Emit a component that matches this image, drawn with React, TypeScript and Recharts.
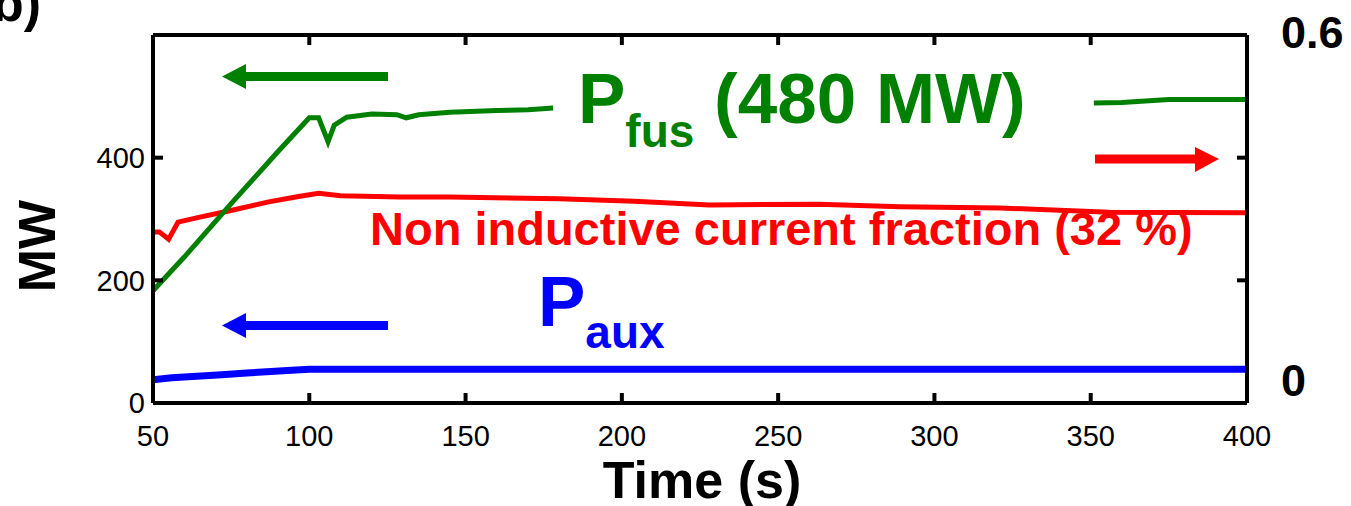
import React from 'react';
import { LineChart, Line, XAxis, YAxis } from 'recharts';

// time axis (s)
const timeTicks = [50, 100, 150, 200, 250, 300, 350, 400];
const mwTicks = [0, 200, 400];
const fracTicks = [0, 0.2, 0.4, 0.6];
const fracLabels: Record<string, string> = { '0': '0', '0.6': '0.6' };

// fusion power, MW (hidden behind the label between ~178 s and ~351 s)
const fusTime = [50, 60, 75, 90, 100, 103, 106, 108, 112, 120, 128, 131, 135, 145, 160, 170, 178, 179, 350, 351, 360, 375, 400];
const fusMW = [183, 238, 325, 410, 465, 465, 426, 453, 466, 471, 470, 465, 470, 474, 477, 478, 481, null, null, 489, 490, 495, 495];

// auxiliary power, MW
const auxTime = [50, 56, 72, 80, 93, 100, 150, 200, 250, 300, 350, 400];
const auxMW = [38, 41, 46, 49, 53, 55, 55, 55, 55, 55, 55, 55];

// non inductive current fraction (right axis)
const niTime = [50, 52, 55, 58, 65, 76, 87, 97, 103, 110, 129, 145, 180, 204, 228, 263, 289, 321, 356, 400];
const niFrac = [0.279, 0.279, 0.267, 0.295, 0.303, 0.315, 0.328, 0.337, 0.342, 0.338, 0.336, 0.336, 0.333, 0.329, 0.323, 0.324, 0.32, 0.318, 0.311, 0.31];

const fusData = fusTime.map((t, i) => ({ t, v: fusMW[i] }));
const auxData = auxTime.map((t, i) => ({ t, v: auxMW[i] }));
const niData = niTime.map((t, i) => ({ t, v: niFrac[i] }));

const FONT = '"Liberation Sans", Arial, Helvetica, sans-serif';
const GREEN = '#008000';
const RED = '#ff0000';
const BLUE = '#0000ff';

const tickStyle = { fontSize: 29, fill: '#000', fontFamily: FONT };

const RightTick = (props: any) => {
  const { x, y, payload } = props;
  const label = fracLabels[String(payload.value)];
  if (!label) return <g />;
  const dy = payload.value === 0 ? -23 : -3;
  return (
    <text x={x + 2} y={y + dy} dy="0.36em" textAnchor="start" fontFamily={FONT} fontWeight="bold" fontSize={45} fill="#000">
      {label}
    </text>
  );
};

const Empty = () => <g />;

const App: React.FC = () => {
  return (
    <div style={{ position: 'absolute', left: 0, top: 0, width: 1351, height: 506, background: '#fff' }}>
      <LineChart width={1351} height={506} margin={{ top: 34, right: 0, bottom: 43, left: 0 }}>
        <XAxis
          xAxisId="b"
          dataKey="t"
          type="number"
          domain={[50, 400]}
          ticks={timeTicks}
          allowDataOverflow
          height={60}
          tickSize={-10}
          tickMargin={32}
          tick={tickStyle}
          axisLine={{ stroke: '#000', strokeWidth: 4 }}
          tickLine={{ stroke: '#000', strokeWidth: 4 }}
        />
        <XAxis
          xAxisId="top"
          orientation="top"
          dataKey="t"
          type="number"
          domain={[50, 400]}
          ticks={timeTicks}
          allowDataOverflow
          height={1}
          tickSize={-10}
          tick={Empty}
          axisLine={{ stroke: '#000', strokeWidth: 4 }}
          tickLine={{ stroke: '#000', strokeWidth: 4 }}
        />
        <YAxis
          yAxisId="mw"
          domain={[0, 600]}
          ticks={mwTicks}
          allowDataOverflow
          width={153}
          tickSize={-10}
          tickMargin={18}
          tick={tickStyle}
          axisLine={{ stroke: '#000', strokeWidth: 4 }}
          tickLine={{ stroke: '#000', strokeWidth: 4 }}
        />
        <YAxis
          yAxisId="frac"
          orientation="right"
          domain={[0, 0.6]}
          ticks={fracTicks}
          allowDataOverflow
          width={104}
          tickSize={-10}
          tickMargin={42}
          tick={RightTick}
          axisLine={{ stroke: '#000', strokeWidth: 4 }}
          tickLine={{ stroke: '#000', strokeWidth: 4 }}
        />
        <Line xAxisId="b" yAxisId="frac" data={niData} dataKey="v" type="linear" stroke={RED} strokeWidth={5} dot={false} isAnimationActive={false} />
        <Line xAxisId="b" yAxisId="mw" data={auxData} dataKey="v" type="linear" stroke={BLUE} strokeWidth={7} dot={false} isAnimationActive={false} />
        <Line xAxisId="b" yAxisId="mw" data={fusData} dataKey="v" type="linear" stroke={GREEN} strokeWidth={5} dot={false} connectNulls={false} isAnimationActive={false} />
      </LineChart>
      <svg width={1351} height={506} style={{ position: 'absolute', left: 0, top: 0, pointerEvents: 'none' }} fontFamily={FONT}>
        {/* arrows pointing to the axis each curve belongs to */}
        <rect x={240} y={72} width={148} height={9} fill={GREEN} />
        <polygon points="222,76.5 246,64 246,89" fill={GREEN} />
        <rect x={240} y={321} width={148} height={9} fill={BLUE} />
        <polygon points="222,325.5 246,313 246,338" fill={BLUE} />
        <rect x={1095} y={154.5} width={106} height={9} fill={RED} />
        <polygon points="1219,159 1195,147 1195,172" fill={RED} />

        <text x={578} y={123} fill={GREEN} fontWeight="bold" fontSize={71}>
          P<tspan fontSize={46} dy={24}>fus</tspan>
          <tspan dy={-24}> (480 MW)</tspan>
        </text>
        <text x={538} y={326} fill={BLUE} fontWeight="bold" fontSize={71}>
          P<tspan fontSize={46} dy={22}>aux</tspan>
        </text>
        <text x={370} y={245} fill={RED} fontWeight="bold" fontSize={47}>
          Non inductive current fraction (32 %)
        </text>

        <text x={41} y={21} textAnchor="end" fontWeight="bold" fontSize={52} fill="#000">b)</text>
        <text x={55} y={246} transform="rotate(-90, 55, 246)" textAnchor="middle" fontWeight="bold" fontSize={52} fill="#000">MW</text>
        <text x={702} y={498} textAnchor="middle" fontWeight="bold" fontSize={52} fill="#000">Time (s)</text>
      </svg>
    </div>
  );
};

export default App;
